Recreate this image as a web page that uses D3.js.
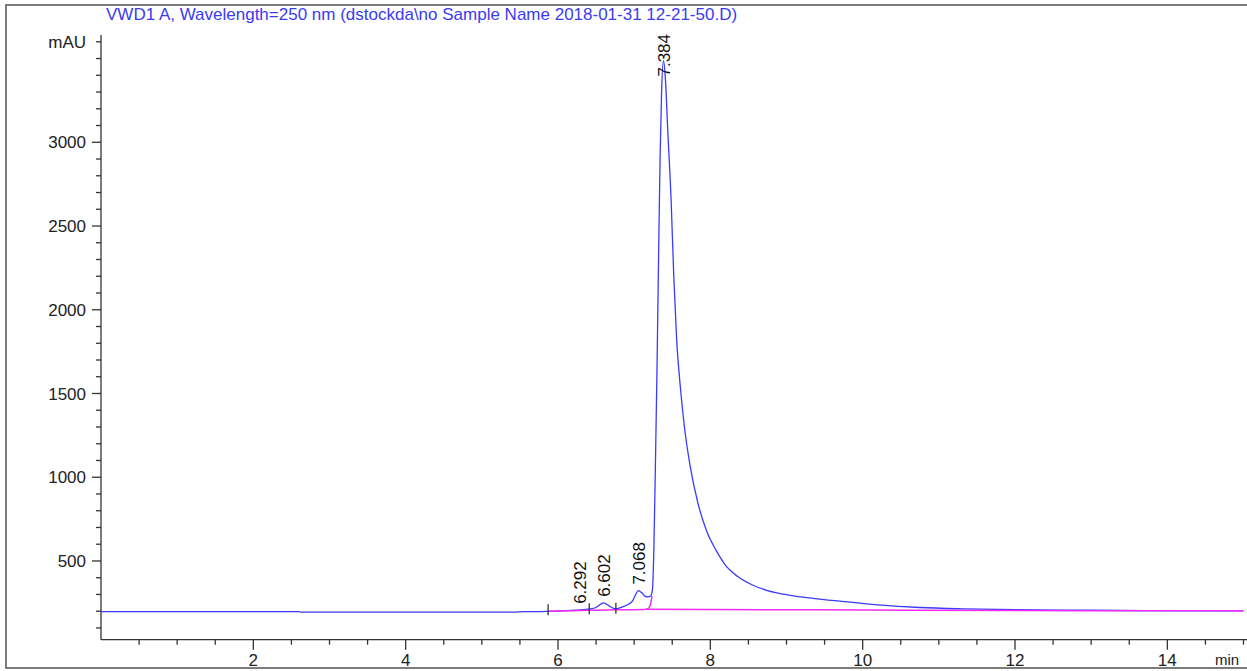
<!DOCTYPE html>
<html>
<head>
<meta charset="utf-8">
<script src="https://cdn.jsdelivr.net/npm/d3@7"></script>
<style>
  body { margin: 0; background: #fff; }
  text { font-family: "Liberation Sans", Arial, sans-serif; }
</style>
</head>
<body>
<script>
// Chromatogram VWD1 A, 250 nm

const WIDTH = 1247, HEIGHT = 671;

const titleText = 'VWD1 A, Wavelength=250 nm (dstockda\\no Sample Name 2018-01-31 12-21-50.D)';

// detector signal (min, mAU)
const signalTime = [0, 2.6, 2.62, 5.4, 5.55, 5.87, 6.1, 6.29, 6.45, 6.52, 6.595, 6.67, 6.75, 6.84, 6.92, 6.98,
  7.02, 7.055, 7.1, 7.14, 7.18, 7.22, 7.24, 7.26, 7.28, 7.30, 7.32, 7.34, 7.36, 7.384, 7.41, 7.44, 7.485,
  7.52, 7.558, 7.606, 7.66, 7.73, 7.84, 7.95, 8.08, 8.19, 8.35, 8.56, 8.74, 9.05, 9.35, 9.7, 10.2, 10.75,
  11.32, 12.0, 12.6, 13.73, 15];
const signalValue = [197, 197, 195, 195, 197, 199, 203, 208, 215, 228, 250, 232, 214, 225, 240, 262,
  300, 323, 310, 290, 285, 292, 330, 600, 1100, 1650, 2300, 2900, 3300, 3487, 3380, 3080, 2655,
  2200, 1820, 1540, 1300, 1080, 840, 680, 560, 480, 410, 355, 325, 295, 277, 260, 238, 222,
  214, 209, 207, 204, 202];

// integration baselines
const baseSmallTime = [5.87, 6.41, 6.76, 7.12, 7.18, 7.21, 7.235];
const baseSmallValue = [199, 205, 208, 210, 214, 235, 290];
const baseMainTime = [7.15, 9.4, 12.8, 15];
const baseMainValue = [211, 208, 203, 202];

// integration event marks
const markTime = [5.87, 6.41, 6.76];
const markValue = [199, 205, 208];

// peak labels
const peakTime = [6.292, 6.602, 7.068, 7.384];
const peakValue = [208, 250, 323, 3487];

const xTicks = [2, 4, 6, 8, 10, 12, 14];
const yTicks = [500, 1000, 1500, 2000, 2500, 3000];

const svg = d3.select('body').append('svg')
  .attr('width', WIDTH)
  .attr('height', HEIGHT);

// outer frame
svg.append('rect')
  .attr('x', 6).attr('y', 5)
  .attr('width', 1270).attr('height', 663)
  .attr('fill', 'none')
  .attr('stroke', '#5a5a5a')
  .attr('stroke-width', 1.6);

const x = d3.scaleLinear().domain([0, 15]).range([101, 1243.5]);
const y = d3.scaleLinear().domain([0, 3600]).range([644.7, 41.8]);

const axisY0 = 30, axisYTop = 35;

// title
svg.append('text')
  .attr('x', 106).attr('y', 20)
  .attr('fill', '#3b3bf2')
  .style('font-size', '17px')
  .text(titleText);

// y axis
const gy = svg.append('g').attr('stroke', '#333').attr('stroke-width', 1.3);
gy.append('line')
  .attr('x1', x(0)).attr('x2', x(0))
  .attr('y1', y(axisY0)).attr('y2', axisYTop);
gy.selectAll('.yt')
  .data(d3.range(100, 3700, 100))
  .enter().append('line')
    .attr('x1', x(0))
    .attr('x2', d => yTicks.includes(d) ? x(0) - 9 : x(0) - 5)
    .attr('y1', d => y(d)).attr('y2', d => y(d));

svg.selectAll('.ylab')
  .data(yTicks)
  .enter().append('text')
    .attr('x', 86).attr('y', d => y(d))
    .attr('dy', '0.36em')
    .attr('text-anchor', 'end')
    .attr('fill', '#222')
    .style('font-size', '17px')
    .text(d => d);

svg.append('text')
  .attr('x', 86).attr('y', y(3600))
  .attr('dy', '0.36em')
  .attr('text-anchor', 'end')
  .attr('fill', '#222')
  .style('font-size', '17px')
  .text('mAU');

// x axis
const gx = svg.append('g').attr('stroke', '#333').attr('stroke-width', 1.3);
gx.append('line')
  .attr('x1', x(0)).attr('x2', WIDTH)
  .attr('y1', y(axisY0)).attr('y2', y(axisY0));
gx.selectAll('.xt')
  .data(d3.range(0.5, 15.5, 0.5))
  .enter().append('line')
    .attr('x1', d => x(d)).attr('x2', d => x(d))
    .attr('y1', y(axisY0))
    .attr('y2', d => xTicks.includes(d) ? y(axisY0) + 10 : y(axisY0) + 5);

svg.selectAll('.xlab')
  .data(xTicks)
  .enter().append('text')
    .attr('x', d => x(d)).attr('y', 666)
    .attr('text-anchor', 'middle')
    .attr('fill', '#222')
    .style('font-size', '17px')
    .text(d => d);

svg.append('text')
  .attr('x', 1215).attr('y', 665)
  .attr('fill', '#222')
  .style('font-size', '15px')
  .text('min');

// curves
const line = d3.line()
  .x(d => x(d[0]))
  .y(d => y(d[1]))
  .curve(d3.curveMonotoneX);

svg.append('path')
  .datum(d3.zip(signalTime, signalValue))
  .attr('d', line)
  .attr('fill', 'none')
  .attr('stroke', '#3b3bff')
  .attr('stroke-width', 1.3);

[d3.zip(baseMainTime, baseMainValue), d3.zip(baseSmallTime, baseSmallValue)].forEach(b => {
  svg.append('path')
    .datum(b)
    .attr('d', line)
    .attr('fill', 'none')
    .attr('stroke', '#f22cf2')
    .attr('stroke-width', 1.5);
});

// integration marks
svg.selectAll('.mark')
  .data(d3.zip(markTime, markValue))
  .enter().append('line')
    .attr('x1', d => x(d[0])).attr('x2', d => x(d[0]))
    .attr('y1', d => y(d[1]) - 7).attr('y2', d => y(d[1]) + 4)
    .attr('stroke', '#222')
    .attr('stroke-width', 1.2);

// retention time labels
const labels = svg.selectAll('.rt')
  .data(d3.zip(peakTime, peakValue))
  .enter().append('text')
    .attr('fill', '#111')
    .style('font-size', '17px')
    .attr('dy', '0.36em')
    .text(d => d[0].toFixed(3));

labels.each(function(d) {
  const len = this.getComputedTextLength();
  const base = Math.max(y(d[1]) - 6, 34 + len);
  d3.select(this).attr('transform', `translate(${x(d[0])},${base}) rotate(-90)`);
});
</script>
</body>
</html>
